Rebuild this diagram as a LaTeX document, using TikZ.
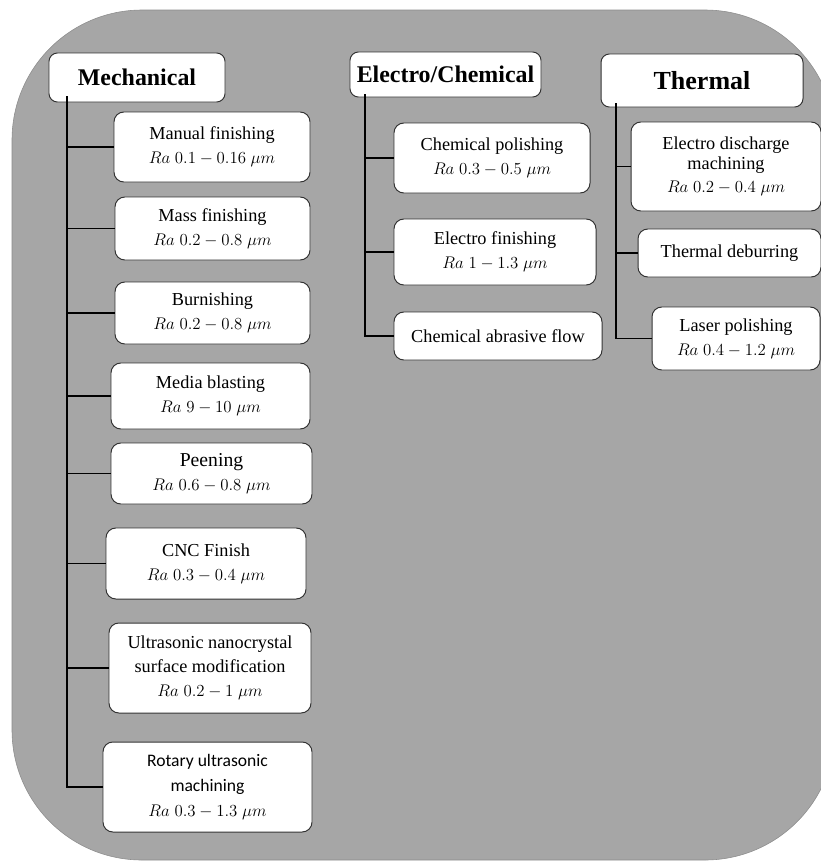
\documentclass[tikz,border=0pt]{standalone}
\usepackage{fontspec}
\setmainfont{Liberation Serif}
\newfontfamily\calibrifont{Carlito}
\usepackage{amsmath}
\definecolor{bggray}{RGB}{166,166,166}

\begin{document}
\begin{tikzpicture}[x=0.025cm,y=-0.025cm,
    size/.style 2 args={minimum width=#1*0.025cm,minimum height=#2*0.025cm},
    headbox/.style={draw=black!80,fill=white,rounded corners=6pt,line width=0.7pt,inner sep=0pt,font=\fontsize{17}{20}\selectfont\bfseries},
    itembox/.style={draw=black!80,fill=white,rounded corners=7pt,line width=0.7pt,inner sep=0pt,align=center,font=\fontsize{13}{17}\selectfont},
    link/.style={line width=1.3pt}]
          \useasboundingbox (0,0) rectangle (821,861);
          % background
          \begin{scope}
            \clip (0,0) rectangle (821,861);
            \draw[fill=bggray,draw=black!45,rounded corners=3.25cm] (12,10) rectangle (835,860);
          \end{scope}
          % mechanical
          \node[headbox,size={176}{49}] (mech) at (137,77.5) {Mechanical};
          \node[itembox,size={196}{70}] (m1) at (212,147) {Manual finishing\\$Ra\;0.1-0.16\;\mu m$};
          \node[itembox,size={195}{63}] (m2) at (212.5,228.5) {Mass finishing\\$Ra\;0.2-0.8\;\mu m$};
          \node[itembox,size={195}{62}] (m3) at (212.5,313) {Burnishing\\$Ra\;0.2-0.8\;\mu m$};
          \node[itembox,size={199}{66}] (m4) at (210.5,396) {Media blasting\\$Ra\;9-10\;\mu m$};
          \node[itembox,size={201}{61}] (m5) at (211.5,473.5) {{\fontsize{14}{17}\selectfont Peening\hspace{1.2em}}\\$Ra\;0.6-0.8\;\mu m$};
          \node[itembox,size={200}{71}] (m6) at (206,563.5) {CNC Finish\\$Ra\;0.3-0.4\;\mu m$};
          \node[itembox,size={202}{90}] (m7) at (210,668) {Ultrasonic nanocrystal\\surface modification\\$Ra\;0.2-1\;\mu m$};
          \node[itembox,size={209}{90},font=\fontsize{12.5}{18}\calibrifont] (m8) at (207.5,787) {Rotary ultrasonic\\machining\\$Ra\;0.3-1.3\;\mu m$};
          % electro/chemical
          \node[headbox,size={191}{45}] (elec) at (445.5,74.5) {Electro/Chemical};
          \node[itembox,size={196}{70}] (e1) at (492,158) {Chemical polishing\\$Ra\;0.3-0.5\;\mu m$};
          \node[itembox,size={202}{66}] (e2) at (495,252) {Electro finishing\\$Ra\;1-1.3\;\mu m$};
          \node[itembox,size={208}{48}] (e3) at (498,336) {Chemical abrasive flow};
          % thermal
          \node[headbox,size={202}{53},font=\fontsize{18.5}{20}\selectfont\bfseries] (therm) at (702,80.5) {Thermal};
          \node[itembox,size={190}{89},font=\fontsize{13}{14}\selectfont] (t1) at (726,166.5) {Electro discharge\\machining\\[3pt]$Ra\;0.2-0.4\;\mu m$};
          \node[itembox,size={183}{48}] (t2) at (729.5,253) {Thermal deburring};
          \node[itembox,size={168}{63}] (t3) at (736,338.5) {Laser polishing\\$Ra\;0.4-1.2\;\mu m$};
          % lines under mechanical
          \coordinate (mtop) at (67,96);
          \draw[link] (mtop) |- (m8.west);
          \draw[link] (mtop |- m1.west) -- (m1.west);
          \draw[link] (mtop |- m2.west) -- (m2.west);
          \draw[link] (mtop |- m3.west) -- (m3.west);
          \draw[link] (mtop |- m4.west) -- (m4.west);
          \draw[link] (mtop |- m5.west) -- (m5.west);
          \draw[link] (mtop |- m6.west) -- (m6.west);
          \draw[link] (mtop |- m7.west) -- (m7.west);
          % lines under electro/chemical
          \coordinate (etop) at (365,94);
          \draw[link] (etop) |- (e3.west);
          \draw[link] (etop |- e1.west) -- (e1.west);
          \draw[link] (etop |- e2.west) -- (e2.west);
          % lines under thermal
          \coordinate (ttop) at (616,103);
          \draw[link] (ttop) |- (t3.west);
          \draw[link] (ttop |- t1.west) -- (t1.west);
          \draw[link] (ttop |- t2.west) -- (t2.west);
        \end{tikzpicture}
\end{document}
